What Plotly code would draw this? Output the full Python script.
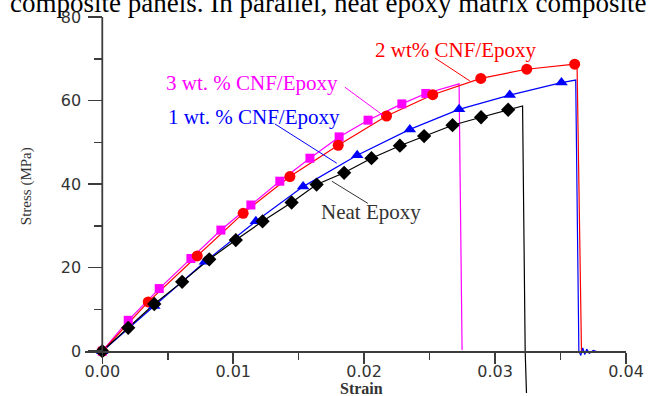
import plotly.graph_objects as go

# ---------------- data ----------------
# Neat epoxy (black diamonds)
neat_strain = [0.0, 0.00198, 0.00397, 0.0061, 0.00817, 0.0102, 0.01224, 0.01446, 0.01637,
               0.01847, 0.02056, 0.02273, 0.02458, 0.02675, 0.02893, 0.031]
neat_stress = [0.0, 5.6, 11.3, 16.6, 22.0, 26.6, 31.1, 35.6, 39.9,
               42.7, 46.2, 49.2, 51.5, 54.1, 56.0, 57.8]
neat_tail_strain = [0.0321, 0.0323, 0.0324]
neat_tail_stress = [58.7, 0.0, -10.0]

# 1 wt.% CNF/Epoxy (blue triangles)
cnf1_strain = [0.0, 0.00397, 0.00784, 0.01173, 0.01534, 0.01947, 0.02349, 0.02725, 0.03112, 0.03507]
cnf1_stress = [0.0, 10.8, 21.4, 31.1, 39.4, 46.9, 53.1, 57.9, 61.3, 64.3]
cnf1_tail_strain = [0.03616, 0.0364, 0.03655, 0.0367, 0.03685, 0.037, 0.0372, 0.0375, 0.038, 0.0385, 0.0389]
cnf1_tail_stress = [64.9, 0.0, -1.0, 0.8, -0.8, 0.5, -0.5, 0.2, -0.3, -0.2, -0.3]

# 2 wt% CNF/Epoxy (red circles)
cnf2_strain = [0.0, 0.00351, 0.00725, 0.01076, 0.01433, 0.01802, 0.02171, 0.02524, 0.02891, 0.03242, 0.03608]
cnf2_stress = [0.0, 11.8, 22.8, 33.0, 41.8, 49.3, 56.3, 61.4, 65.3, 67.5, 68.7]
cnf2_tail_strain = [0.03626, 0.0366]
cnf2_tail_stress = [68.8, 0.0]

# 3 wt.% CNF/Epoxy (magenta squares)
cnf3_strain = [0.0, 0.00198, 0.00435, 0.00677, 0.00906, 0.01135, 0.01356, 0.01586, 0.01809,
               0.0203, 0.02288, 0.02471]
cnf3_stress = [0.0, 7.4, 15.0, 22.2, 29.0, 35.0, 40.7, 46.2, 51.3, 55.3, 59.2, 61.7]
cnf3_tail_strain = [0.02725, 0.02748]
cnf3_tail_stress = [64.0, 0.3]

x_major = [0.0, 0.01, 0.02, 0.03, 0.04]
x_minor = [0.005, 0.015, 0.025, 0.035]
y_major = [0, 20, 40, 60, 80]
y_minor = [10, 30, 50, 70]

caption = "composite panels. In parallel, neat epoxy matrix composite"

# ---------------- figure ----------------
XMIN, XMAX = -0.00132, 0.04
YMIN, YMAX = -10, 80
AX = "#3c3c3c"

series = [
    ("3 wt. % CNF/Epoxy", cnf3_strain, cnf3_stress, cnf3_tail_strain, cnf3_tail_stress, "#ff00ff", "square", 9),
    ("2 wt% CNF/Epoxy", cnf2_strain, cnf2_stress, cnf2_tail_strain, cnf2_tail_stress, "#ff0000", "circle", 11),
    ("1 wt. % CNF/Epoxy", cnf1_strain, cnf1_stress, cnf1_tail_strain, cnf1_tail_stress, "#0000ff", "triangle-up", 11),
    ("Neat Epoxy", neat_strain, neat_stress, neat_tail_strain, neat_tail_stress, "#000000", "diamond", 11),
]

fig = go.Figure()
for name, xs, ys, tx, ty, color, sym, size in series:
    fig.add_trace(go.Scatter(x=xs + tx, y=ys + ty, mode="lines", name=name,
                             line=dict(color=color, width=1.2), hoverinfo="skip"))
for name, xs, ys, tx, ty, color, sym, size in series:
    fig.add_trace(go.Scatter(x=xs, y=ys, mode="markers", name=name, cliponaxis=False,
                             hoverinfo="skip",
                             marker=dict(symbol=sym, size=size, color=color, line=dict(width=0))))

serif = "Liberation Serif"
lab_size = 21
tickfont = dict(family="DejaVu Sans", size=16, color="#333333")

fig.update_layout(
    width=656, height=396,
    margin=dict(l=85, r=30, t=17, b=3),
    plot_bgcolor="white", paper_bgcolor="white",
    showlegend=False,
    xaxis=dict(range=[XMIN, XMAX], anchor="free", position=(0 - YMIN) / (YMAX - YMIN),
               showline=True, linecolor=AX, linewidth=1.6, showgrid=False, zeroline=False,
               ticks="outside", ticklen=11, tickwidth=1.5, tickcolor=AX,
               tickmode="array", tickvals=x_major, tickformat=".2f",
               minor=dict(tickmode="array", tickvals=x_minor, ticks="outside", ticklen=7,
                          tickwidth=1.5, tickcolor=AX, showgrid=False),
               tickfont=tickfont, ticklabelstandoff=-6,
               automargin=False),
    yaxis=dict(range=[YMIN, YMAX], anchor="free", position=(0 - XMIN) / (XMAX - XMIN),
               showline=False, showgrid=False, zeroline=False,
               ticks="outside", ticklen=14, tickwidth=1.5, tickcolor=AX,
               tickmode="array", tickvals=y_major,
               minor=dict(tickmode="array", tickvals=y_minor, ticks="outside", ticklen=8,
                          tickwidth=1.5, tickcolor=AX, showgrid=False),
               tickfont=tickfont, ticklabelstandoff=4,
               automargin=False),
)

# y axis line from 0 to 80 at strain = 0
fig.add_shape(type="line", xref="x", yref="y", x0=0, x1=0, y0=0, y1=YMAX,
              line=dict(color=AX, width=1.8), layer="above")

# curve labels with leader lines
labels = [
    ("2 wt% CNF/Epoxy", "#ff0000", 0.0270, 72.1, 0.0254, 70.2, 0.02807, 64.7),
    ("3 wt. % CNF/Epoxy", "#ff00ff", 0.01145, 64.2, 0.01853, 63.2, 0.02143, 56.5),
    ("1 wt. % CNF/Epoxy", "#0000ff", 0.01158, 56.0, 0.01318, 54.4, 0.01791, 45.0),
    ("Neat Epoxy", "#333333", 0.02053, 33.3, 0.02028, 35.4, 0.01753, 40.7),
]
for text, col, tx, ty, lx0, ly0, lx1, ly1 in labels:
    fig.add_annotation(text=text, x=tx, y=ty, xref="x", yref="y", showarrow=False,
                       xanchor="center", yanchor="middle",
                       font=dict(family=serif, size=lab_size, color=col))
    fig.add_shape(type="line", xref="x", yref="y", x0=lx0, y0=ly0, x1=lx1, y1=ly1,
                  line=dict(color=col, width=1))

# axis titles
fig.add_annotation(text="Stress (MPa)", textangle=-90, xref="paper", yref="y",
                   x=(26 - 85) / 541, y=39.5, xanchor="center", yanchor="middle",
                   showarrow=False, font=dict(family=serif, size=15, color="#333333"))
fig.add_annotation(text="<b>Strain</b>", xref="x", yref="y", x=0.01976, y=-8.9,
                   xanchor="center", yanchor="middle",
                   showarrow=False, font=dict(family=serif, size=16, color="#333333"))

# cropped caption text at the top
fig.add_annotation(text=caption, xref="paper", yref="paper", x=(8 - 85) / 541, y=1,
                   xanchor="left", yanchor="bottom", yshift=-3, showarrow=False,
                   font=dict(family=serif, size=27, color="#000000"))

fig.write_html("out.html", config={"displayModeBar": False, "staticPlot": True},
               post_script="document.body.style.margin='0';document.body.style.overflow='hidden';")
